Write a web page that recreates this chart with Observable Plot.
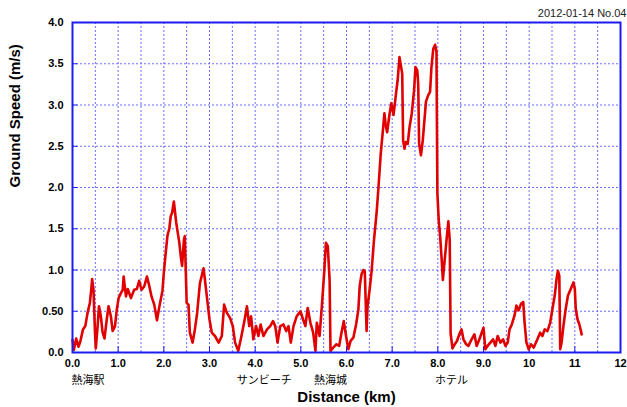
<!DOCTYPE html>
<html>
<head>
<meta charset="utf-8">
<script src="https://cdn.jsdelivr.net/npm/d3@7"></script>
<script src="https://cdn.jsdelivr.net/npm/@observablehq/plot@0.6"></script>
<style>
  html, body { margin: 0; padding: 0; background: #fff; }
  #chart { width: 627px; height: 407px; }
</style>
</head>
<body>
<div id="chart"></div>
<script>
// Distance along route (km)
const distance = [
  0.00,0.03,0.08,0.13,0.17,0.23,0.28,0.33,0.38,0.41,0.43,0.46,0.49,0.51,0.55,0.58,0.62,0.66,0.70,0.75,
  0.79,0.84,0.88,0.93,0.97,1.01,1.06,1.10,1.12,1.17,1.21,1.28,1.35,1.41,1.46,1.51,1.57,1.63,1.68,1.73,
  1.79,1.85,1.90,1.97,2.00,2.04,2.08,2.12,2.15,2.18,2.22,2.24,2.27,2.30,2.34,2.37,2.40,2.44,2.46,2.48,
  2.50,2.54,2.57,2.63,2.68,2.73,2.79,2.87,2.90,2.95,3.00,3.05,3.12,3.20,3.27,3.32,3.38,3.45,3.51,3.56,
  3.63,3.70,3.77,3.82,3.87,3.91,3.96,4.02,4.07,4.12,4.18,4.26,4.33,4.39,4.44,4.49,4.55,4.62,4.68,4.73,
  4.78,4.84,4.91,4.99,5.05,5.10,5.15,5.21,5.27,5.32,5.35,5.41,5.46,5.51,5.55,5.59,5.63,5.65,5.71,5.78,
  5.84,5.89,5.94,5.99,6.04,6.09,6.15,6.21,6.26,6.29,6.33,6.37,6.40,6.44,6.46,6.50,6.55,6.60,6.66,6.70,
  6.75,6.79,6.83,6.86,6.89,6.94,6.98,7.03,7.08,7.12,7.16,7.19,7.22,7.24,7.27,7.30,7.34,7.38,7.43,7.48,
  7.51,7.55,7.57,7.59,7.63,7.67,7.70,7.74,7.79,7.83,7.86,7.90,7.94,7.97,7.99,8.02,8.05,8.09,8.11,8.15,
  8.20,8.23,8.26,8.28,8.32,8.37,8.42,8.47,8.52,8.56,8.62,8.67,8.74,8.80,8.85,8.91,8.96,9.00,9.04,9.09,
  9.15,9.21,9.26,9.31,9.37,9.43,9.48,9.53,9.57,9.62,9.68,9.72,9.77,9.82,9.87,9.90,9.94,9.99,10.04,10.10,
  10.18,10.24,10.29,10.34,10.40,10.46,10.51,10.56,10.60,10.63,10.66,10.68,10.71,10.75,10.80,10.85,10.91,10.97,11.00,11.02,
  11.06,11.10,11.15
];
// Ground speed (m/s)
const speed = [
  0.15,0.03,0.17,0.07,0.13,0.28,0.32,0.48,0.60,0.76,0.89,0.76,0.28,0.05,0.32,0.56,0.44,0.24,0.17,0.40,
  0.56,0.44,0.26,0.32,0.52,0.66,0.72,0.76,0.92,0.68,0.77,0.66,0.76,0.77,0.87,0.76,0.80,0.92,0.81,0.68,
  0.58,0.39,0.55,0.75,0.97,1.20,1.42,1.50,1.65,1.69,1.83,1.73,1.58,1.47,1.33,1.17,1.05,1.37,1.41,1.00,
  0.60,0.58,0.24,0.12,0.28,0.48,0.84,1.02,0.88,0.64,0.40,0.24,0.20,0.12,0.20,0.58,0.48,0.42,0.32,0.12,
  0.02,0.20,0.40,0.56,0.32,0.44,0.16,0.32,0.20,0.34,0.20,0.28,0.32,0.38,0.32,0.12,0.32,0.34,0.26,0.32,
  0.12,0.32,0.44,0.50,0.40,0.32,0.54,0.36,0.24,0.02,0.36,0.20,0.56,0.96,1.33,1.29,0.88,0.02,0.06,0.10,
  0.08,0.24,0.38,0.20,0.04,0.14,0.18,0.34,0.52,0.81,0.95,1.00,0.99,0.26,0.56,0.73,0.99,1.35,1.70,2.00,
  2.41,2.65,2.90,2.75,2.67,2.88,3.02,2.88,3.12,3.30,3.58,3.48,3.38,2.57,2.47,2.55,2.53,2.73,2.90,3.18,
  3.46,3.42,3.26,2.53,2.39,2.57,2.77,3.04,3.12,3.16,3.46,3.68,3.73,3.65,1.93,1.60,1.41,1.08,0.88,1.12,
  1.42,1.59,1.37,0.23,0.05,0.10,0.14,0.22,0.28,0.16,0.10,0.08,0.16,0.22,0.08,0.16,0.24,0.30,0.04,0.08,
  0.12,0.16,0.08,0.20,0.12,0.16,0.08,0.12,0.28,0.34,0.45,0.57,0.51,0.59,0.61,0.36,0.12,0.04,0.10,0.06,
  0.16,0.24,0.20,0.28,0.26,0.36,0.53,0.69,0.89,0.99,0.93,0.04,0.12,0.32,0.53,0.69,0.77,0.85,0.77,0.53,
  0.40,0.34,0.22
];

const xTicks = [0,1,2,3,4,5,6,7,8,9,10,11,12];
const xTickLabels = ["0.0","1.0","2.0","3.0","4.0","5.0","6.0","7.0","8.0","9.0","10","11","12"];
const yTicks = [0,0.5,1,1.5,2,2.5,3,3.5,4];
const yTickLabels = ["0.0","0.50","1.0","1.5","2.0","2.5","3.0","3.5","4.0"];
const gridX = [0.5,1,1.5,2,2.5,3,3.5,4,4.5,5,5.5,6,6.5,7,7.5,8,8.5,9,9.5,10,10.5,11,11.5];
const gridY = [0.5,1,1.5,2,2.5,3,3.5];

const placeNames = ["熱海駅","サンビーチ","熱海城","ホテル"];
const placeKm = [0.34,4.2,5.65,8.3];

const noteText = "2012-01-14 No.04";
const xTitle = "Distance (km)";
const yTitle = "Ground Speed (m/s)";

const rows = distance.map((d, i) => ({d, s: speed[i]}));
const places = placeNames.map((n, i) => ({n, x: placeKm[i]}));

const blue = "#1c1cf0";
const gridBlue = "#6b6bff";

const chart = Plot.plot({
  width: 627,
  height: 407,
  marginLeft: 72,
  marginRight: 7,
  marginTop: 22,
  marginBottom: 55,
  style: {fontFamily: "'Liberation Sans', Arial, sans-serif", fontSize: "11px", fontWeight: "bold", color: "#000", background: "#fff"},
  x: {domain: [0, 12]},
  y: {domain: [0, 4]},
  marks: [
    Plot.ruleX(gridX, {stroke: gridBlue, strokeWidth: 1, strokeDasharray: "2,2"}),
    Plot.ruleY(gridY, {stroke: gridBlue, strokeWidth: 1, strokeDasharray: "2,2"}),
    Plot.ruleY(yTicks, {x1: 0, x2: 0.12, stroke: blue, strokeWidth: 1}),
    Plot.ruleX(xTicks, {y1: 0, y2: 0.07, stroke: blue, strokeWidth: 1}),
    Plot.axisX(xTicks, {tickSize: 0, tickPadding: 7, tickFormat: d => xTickLabels[xTicks.indexOf(d)], label: null, fontWeight: "bold", fontSize: 11}),
    Plot.axisY(yTicks, {tickSize: 0, tickPadding: 9, tickFormat: d => yTickLabels[yTicks.indexOf(d)], label: null, fontWeight: "bold", fontSize: 11}),
    Plot.line(rows, {x: "d", y: "s", stroke: "#e00000", strokeWidth: 2.6, strokeLinejoin: "round", curve: "linear"}),
    Plot.frame({stroke: blue, strokeWidth: 2}),
    Plot.text(places, {x: "x", y: 0, text: "n", dy: 28, lineAnchor: "middle", fontSize: 11, fontWeight: "normal", fontFamily: "'Noto Sans CJK JP', sans-serif", fill: "#000"}),
    Plot.text([xTitle], {frameAnchor: "bottom", dy: 45, lineAnchor: "middle", fontSize: 15, fontWeight: "bold"}),
    Plot.text([yTitle], {frameAnchor: "left", dx: -57, rotate: -90, lineAnchor: "middle", fontSize: 15, fontWeight: "bold"}),
    Plot.text([noteText], {frameAnchor: "top-right", dx: 6, dy: -9, textAnchor: "end", lineAnchor: "middle", fontSize: 11, fontWeight: "normal", fill: "#222"})
  ]
});
document.getElementById("chart").appendChild(chart);
</script>
</body>
</html>
